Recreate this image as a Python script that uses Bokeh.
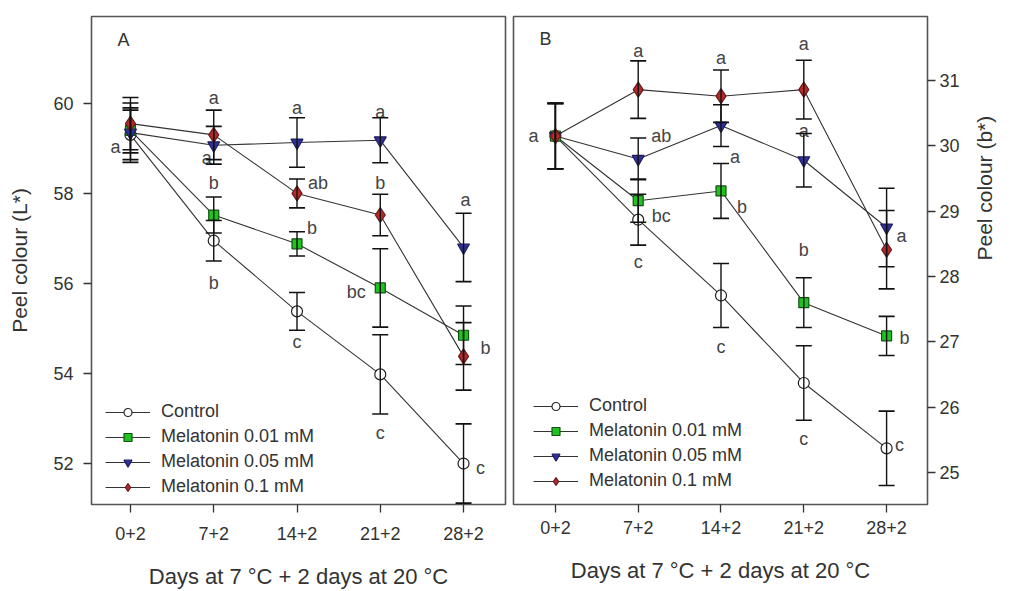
import math
from bokeh.plotting import figure
from bokeh.models import (ColumnDataSource, Whisker, TeeHead, FixedTicker, Legend,
                          LegendItem, Label, Range1d)
from bokeh.layouts import row
from bokeh.embed import file_html
from bokeh.resources import INLINE
from bokeh.core.properties import value

# ---------------- data ----------------
days = ["0+2", "7+2", "14+2", "21+2", "28+2"]
series_names = ["Control", "Melatonin 0.01 mM", "Melatonin 0.05 mM", "Melatonin 0.1 mM"]

# Panel A: Peel colour (L*)
L_control = [59.30, 56.95, 55.38, 53.98, 52.00]
L_control_err = [0.55, 0.45, 0.42, 0.88, 0.88]
L_mel001 = [59.40, 57.52, 56.88, 55.90, 54.85]
L_mel001_err = [0.50, 0.40, 0.27, 0.87, 0.65]
L_mel005 = [59.35, 59.07, 59.13, 59.18, 56.80]
L_mel005_err = [0.66, 0.42, 0.55, 0.50, 0.76]
L_mel01 = [59.55, 59.30, 58.00, 57.52, 54.38]
L_mel01_err = [0.58, 0.55, 0.32, 0.46, 0.75]

# significance letters panel A: (series index, day index, letter)
L_letters = [(0, 0, "a"),
             (3, 1, "a"), (2, 1, "a"), (1, 1, "b"), (0, 1, "b"),
             (2, 2, "a"), (3, 2, "ab"), (1, 2, "b"), (0, 2, "c"),
             (2, 3, "a"), (3, 3, "b"), (1, 3, "bc"), (0, 3, "c"),
             (2, 4, "a"), (3, 4, "b"), (0, 4, "c")]

# Panel B: Peel colour (b*)
B_control = [30.15, 28.87, 27.71, 26.37, 25.37]
B_control_err = [0.50, 0.39, 0.49, 0.57, 0.57]
B_mel001 = [30.15, 29.16, 29.31, 27.60, 27.09]
B_mel001_err = [0.50, 0.33, 0.42, 0.38, 0.30]
B_mel005 = [30.15, 29.80, 30.31, 29.78, 28.75]
B_mel005_err = [0.50, 0.32, 0.32, 0.41, 0.60]
B_mel01 = [30.15, 30.86, 30.76, 30.86, 28.41]
B_mel01_err = [0.50, 0.44, 0.40, 0.45, 0.60]

B_letters = [(3, 0, "a"),
             (3, 1, "a"), (2, 1, "ab"), (1, 1, "bc"), (0, 1, "c"),
             (3, 2, "a"), (1, 2, "a"), (1, 2, "b"), (0, 2, "c"),
             (3, 3, "a"), (2, 3, "a"), (1, 3, "b"), (0, 3, "c"),
             (3, 4, "a"), (1, 4, "b"), (0, 4, "c")]

L_ticks = [52, 54, 56, 58, 60]
B_ticks = [25, 26, 27, 28, 29, 30, 31]

# ---------------- styles ----------------
FONT = "Liberation Sans"
TXT = "#333333"
# letter offsets in screen pixels (dx right, dy down) from the related point
L_letter_offsets = [(-15, 12),
                    (0, -37), (-7, 13), (0, -32), (0, 42),
                    (0, -35), (21, -10), (15, -16), (0, 31),
                    (0, -28), (0, -32), (-24, 4), (0, 59),
                    (2, -47), (22, -8), (17, 4)]
B_letter_offsets = [(-22, 0),
                    (0, -39), (23, -23), (23, 15), (0, 42),
                    (0, -38), (14, -34), (21, 16), (0, 52),
                    (0, -46), (0, -29), (0, -53), (0, 56),
                    (15, -14), (18, 2), (13, -3)]

marker_styles = [
    dict(marker="circle", size=11, fill_color="white", line_color="#222222"),
    dict(marker="square", size=10, fill_color="#1fc21f", line_color="#145214"),
    dict(marker="inverted_triangle", size=12, fill_color="#30309a", line_color="#202060"),
    dict(marker="diamond", size=15, fill_color="#b52b2b", line_color="#6a1a1a"),
]


def style_fig(p):
    p.background_fill_color = "white"
    p.border_fill_color = "white"
    p.outline_line_color = "#555555"
    p.outline_line_width = 1.6
    p.xgrid.visible = False
    p.ygrid.visible = False
    for ax in p.xaxis + p.yaxis:
        ax.axis_line_color = None
        ax.major_tick_line_color = "#333333"
        ax.major_tick_line_width = 1.3
        ax.major_tick_out = 8
        ax.major_tick_in = 0
        ax.minor_tick_line_color = None
        ax.major_label_text_font = FONT
        ax.major_label_text_font_size = "18px"
        ax.major_label_text_color = TXT
        ax.axis_label_text_font = FONT
        ax.axis_label_text_font_style = "normal"
        ax.axis_label_text_color = TXT
    p.xaxis.ticker = FixedTicker(ticks=list(range(len(days))))
    p.xaxis.major_label_overrides = {i: d for i, d in enumerate(days)}
    p.xaxis.axis_label = "Days at 7 \u00b0C + 2 days at 20 \u00b0C"
    p.xaxis.axis_label_text_font_size = "22px"
    p.xaxis.axis_label_standoff = 21


def draw_series(p, means, errs, letters, offsets, legend_xy):
    xs = list(range(len(days)))
    for m, e in zip(means, errs):
        src = ColumnDataSource(dict(x=xs, upper=[a + b for a, b in zip(m, e)],
                                    lower=[a - b for a, b in zip(m, e)]))
        w = Whisker(base="x", upper="upper", lower="lower", source=src,
                    line_color="#111111", line_width=1.4,
                    upper_head=TeeHead(size=16, line_color="#111111", line_width=1.6),
                    lower_head=TeeHead(size=16, line_color="#111111", line_width=1.6),
                    level="glyph")
        p.add_layout(w)
    items = []
    for i, m in enumerate(means):
        lr = p.line(xs, m, line_color="#333333", line_width=1.1)
        sr = p.scatter(xs, m, line_width=1.2, **marker_styles[i])
        items.append(LegendItem(label=series_names[i], renderers=[lr, sr]))
    # letters
    lx, ly, lt, dx, dy = [], [], [], [], []
    for (s, d, t), (ox, oy) in zip(letters, offsets):
        lx.append(d)
        ly.append(means[s][d])
        lt.append(t)
        dx.append(ox)
        dy.append(oy)
    src = ColumnDataSource(dict(x=lx, y=ly, text=lt, dx=dx, dy=dy))
    p.text(x="x", y="y", text="text", x_offset="dx", y_offset="dy", source=src,
           text_align="center", text_baseline="middle", text_font=value(FONT),
           text_font_size="18px", text_color="#444444")
    legend = Legend(items=items, location=legend_xy, border_line_color=None,
                    background_fill_alpha=0, padding=0, margin=0, spacing=4,
                    glyph_height=20, glyph_width=45, label_height=20,
                    label_standoff=11, label_text_font=FONT,
                    label_text_font_size="18px", label_text_color=TXT)
    p.add_layout(legend)


# ---------------- panel A ----------------
pA = figure(width=508, height=591, x_range=Range1d(-0.468, 4.504),
            y_range=Range1d(51.09, 61.93), output_backend="svg",
            toolbar_location=None, min_border_left=91, min_border_right=3,
            min_border_top=16, min_border_bottom=87)
style_fig(pA)
pA.xaxis.major_label_standoff = 14
pA.yaxis.ticker = FixedTicker(ticks=L_ticks)
pA.yaxis.major_label_standoff = 10
pA.yaxis.axis_label = "Peel colour (L*)"
pA.yaxis.axis_label_text_font_size = "21px"
pA.yaxis.axis_label_standoff = 19
draw_series(pA, [L_control, L_mel001, L_mel005, L_mel01],
            [L_control_err, L_mel001_err, L_mel005_err, L_mel01_err],
            L_letters, L_letter_offsets, (14, 7))
pA.add_layout(Label(x=-0.084, y=61.4, text="A", text_font=FONT, text_font_size="18px",
                    text_color=TXT, text_align="center", text_baseline="middle"))

# ---------------- panel B ----------------
pB = figure(width=502, height=591, x_range=Range1d(-0.506, 4.494),
            y_range=Range1d(24.51, 31.98), output_backend="svg",
            toolbar_location=None, y_axis_location="right", min_border_left=5,
            min_border_right=82, min_border_top=15, min_border_bottom=81)
style_fig(pB)
pB.xaxis.major_label_standoff = 8
pB.yaxis.ticker = FixedTicker(ticks=B_ticks)
pB.yaxis.major_label_standoff = 4
pB.yaxis.axis_label = "Peel colour (b*)"
pB.yaxis.axis_label_text_font_size = "21px"
pB.yaxis.axis_label_standoff = 22
try:
    pB.yaxis[0].axis_label_orientation = math.pi / 2
except Exception:
    pass
draw_series(pB, [B_control, B_mel001, B_mel005, B_mel01],
            [B_control_err, B_mel001_err, B_mel005_err, B_mel01_err],
            B_letters, B_letter_offsets, (20, 13))
pB.add_layout(Label(x=-0.12, y=31.63, text="B", text_font=FONT, text_font_size="18px",
                    text_color=TXT, text_align="center", text_baseline="middle"))

layout = row(pA, pB)
open("out.html", "w").write(file_html(layout, INLINE))
